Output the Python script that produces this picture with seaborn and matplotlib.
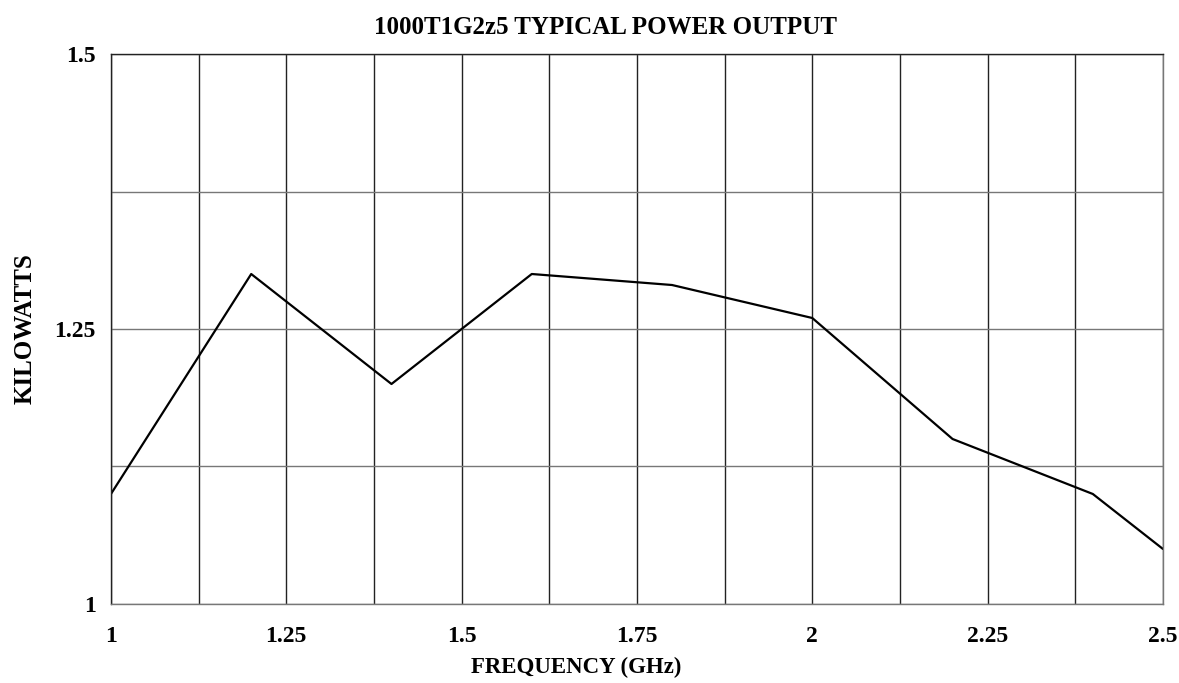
import matplotlib
matplotlib.use("Agg")
import matplotlib.pyplot as plt
import matplotlib.ticker as mticker
import seaborn as sns
import pandas as pd

# --- DATA ---
freq_ghz = [1.0, 1.2, 1.4, 1.6, 1.8, 2.0, 2.2, 2.4, 2.5]
power_kw = [1.10, 1.30, 1.20, 1.30, 1.29, 1.26, 1.15, 1.10, 1.05]
x_ticks = [1, 1.25, 1.5, 1.75, 2, 2.25, 2.5]
x_tick_labels = ["1", "1.25", "1.5", "1.75", "2", "2.25", "2.5"]
y_ticks = [1, 1.25, 1.5]
y_tick_labels = ["1", "1.25", "1.5"]

df = pd.DataFrame({"freq": freq_ghz, "power": power_kw})

sns.set_style("white")
plt.rcParams['font.family'] = ['Liberation Serif', 'DejaVu Serif']
plt.rcParams['font.weight'] = 'bold'
plt.rcParams['text.color'] = 'black'
plt.rcParams['axes.labelcolor'] = 'black'
plt.rcParams['xtick.color'] = 'black'
plt.rcParams['ytick.color'] = 'black'

fig = plt.figure(figsize=(11.79, 6.83), dpi=100)
ax = fig.add_axes([0.0941, 0.1157, 0.8923, 0.8052])

sns.lineplot(data=df, x="freq", y="power", color="black", linewidth=1.6, ax=ax)

ax.set_xlim(1, 2.5)
ax.set_ylim(1, 1.5)
ax.set_xticks(x_ticks)
ax.set_xticklabels(x_tick_labels)
ax.set_yticks(y_ticks)
ax.set_yticklabels(y_tick_labels)
ax.xaxis.set_minor_locator(mticker.MultipleLocator(0.125))
ax.yaxis.set_minor_locator(mticker.MultipleLocator(0.125))

# vertical grid dark, horizontal grid grey
ax.grid(True, axis="x", which="both", color="#222222", linewidth=1.0)
ax.grid(True, axis="y", which="both", color="#777777", linewidth=1.0)
ax.set_axisbelow(True)

ax.tick_params(axis="x", which="both", length=0, pad=16, labelsize=17, labelcolor="black")
ax.tick_params(axis="y", which="both", length=0, pad=11, labelsize=17, labelcolor="black")
for lbl in ax.get_xticklabels() + ax.get_yticklabels():
    lbl.set_fontweight("bold")

for side in ["top", "left"]:
    ax.spines[side].set_color("#222222")
for side in ["bottom", "right"]:
    ax.spines[side].set_color("#777777")
for sp in ax.spines.values():
    sp.set_linewidth(1.0)
    sp.set_visible(True)

fig.text(606 / 1179, 1 - 27 / 683, "1000T1G2z5 TYPICAL POWER OUTPUT",
         fontsize=18, fontweight="bold", color="black", ha="center", va="center")
ax.set_xlabel("FREQUENCY (GHz)", fontsize=16.5, fontweight="bold", color="black")
ax.xaxis.set_label_coords(0.442, -0.097)
ax.set_ylabel("KILOWATTS", fontsize=18, fontweight="bold", color="black")
ax.yaxis.set_label_coords(-0.071, 0.5)

fig.savefig("out.png", dpi=100)
plt.close(fig)
